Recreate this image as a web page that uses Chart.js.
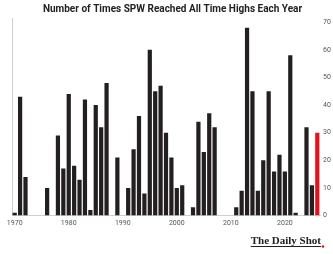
<!DOCTYPE html>
<html>
<head>
<meta charset="utf-8">
<script src="https://cdn.jsdelivr.net/npm/chart.js@4"></script>
<style>
  body { margin: 0; background: #fff; }
  #wrap { width: 333px; height: 254px; }
</style>
</head>
<body>
<div id="wrap"><canvas id="grafico" width="333" height="254"></canvas></div>
<script>
// años (categorías) y número de máximos históricos por año
const years = ["1970","1971","1972","1973","1974","1975","1976","1977","1978","1979",
  "1980","1981","1982","1983","1984","1985","1986","1987","1988","1989",
  "1990","1991","1992","1993","1994","1995","1996","1997","1998","1999",
  "2000","2001","2002","2003","2004","2005","2006","2007","2008","2009",
  "2010","2011","2012","2013","2014","2015","2016","2017","2018","2019",
  "2020","2021","2022","2023","2024","2025","2026"];
const athCounts = [1,43,14,0,0,0,10,0,29,17,
  44,18,13,42,2,40,32,48,0,21,
  0,10,24,36,8,60,45,47,30,21,
  10,11,0,3,34,23,37,32,0,0,
  0,3,9,68,45,9,20,45,16,22,
  16,58,1,0,32,11,30];
const yTicks = [0,10,20,30,40,50,60,70];
const xTickYears = ["1970","1980","1990","2000","2010","2020"];

const colores = years.map((y, i) => i === years.length - 1 ? "#e3131b" : "#231f20");

// logo "The Daily Shot" abajo a la derecha
const logoPlugin = {
  id: "logo",
  afterDraw(chart) {
    const ctx = chart.ctx;
    ctx.save();
    ctx.font = "bold 11px 'Liberation Serif', 'DejaVu Serif', serif";
    ctx.fillStyle = "#222";
    ctx.textAlign = "right";
    ctx.textBaseline = "alphabetic";
    const txt = "The Daily Shot";
    const right = 321;
    const w = ctx.measureText(txt).width;
    ctx.fillText(txt, right, 244);
    ctx.fillRect(right - w, 246, w, 1);
    ctx.fillStyle = "#e3131b";
    ctx.beginPath();
    ctx.arc(right + 2, 246.5, 1.3, 0, Math.PI * 2);
    ctx.fill();
    ctx.restore();
  }
};

new Chart(document.getElementById("grafico"), {
  type: "bar",
  data: {
    labels: years,
    datasets: [{
      data: athCounts,
      backgroundColor: colores,
      borderWidth: 0,
      barPercentage: 0.78,
      categoryPercentage: 1
    }]
  },
  options: {
    responsive: false,
    animation: false,
    layout: { padding: { top: 0, left: 12, right: 0, bottom: 24 } },
    plugins: {
      legend: { display: false },
      tooltip: { enabled: false },
      title: {
        display: true,
        text: "Number of Times SPW Reached All Time Highs Each Year",
        color: "#222",
        font: { family: "'Liberation Sans Narrow', Roboto, sans-serif", size: 10, weight: "bold" },
        padding: { top: 3, bottom: 3 }
      }
    },
    scales: {
      x: {
        grid: { display: false, drawTicks: false },
        border: { display: true, color: "#cfcfcf" },
        ticks: {
          autoSkip: false,
          maxRotation: 0,
          padding: 3,
          color: "#555",
          font: { family: "Roboto, sans-serif", size: 7 },
          callback: function (v) {
            const l = this.getLabelForValue(v);
            return xTickYears.includes(l) ? l : null;
          }
        }
      },
      yLeft: {
        position: "left",
        min: 0, max: 71.5,
        grid: { display: false, drawTicks: false },
        ticks: { display: false },
        border: { display: true, color: "#cfcfcf" }
      },
      y: {
        position: "right",
        min: 0, max: 71.5,
        grid: { display: false, drawTicks: false },
        border: { display: false },
        afterBuildTicks: (axis) => { axis.ticks = yTicks.map(v => ({ value: v })); },
        afterFit: (axis) => { axis.width = 13; },
        ticks: {
          padding: 3,
          color: "#555",
          font: { family: "Roboto, sans-serif", size: 7 }
        }
      }
    }
  },
  plugins: [logoPlugin]
});
</script>
</body>
</html>
